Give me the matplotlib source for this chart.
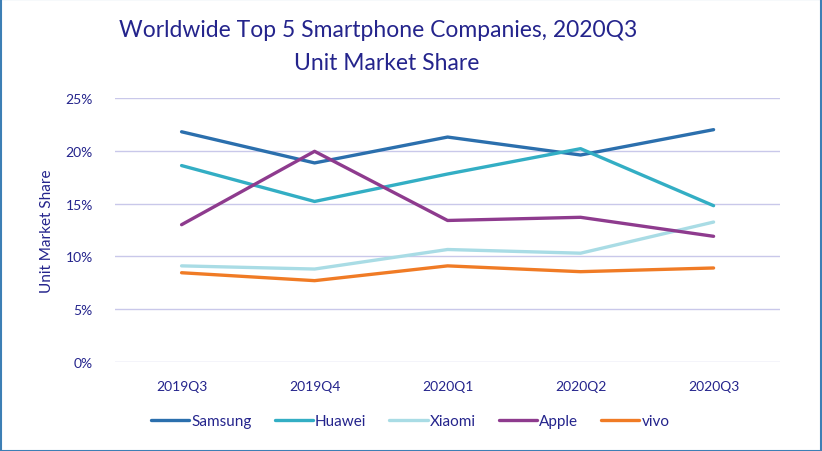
import matplotlib
matplotlib.use("Agg")
from matplotlib import pyplot as plt
from matplotlib.patches import Rectangle
from matplotlib.ticker import PercentFormatter

plt.rcParams["font.family"] = ["Lato", "DejaVu Sans"]

quarters = ["2019Q3", "2019Q4", "2020Q1", "2020Q2", "2020Q3"]
samsung = [21.8, 18.85, 21.3, 19.6, 22.0]
huawei = [18.6, 15.2, 17.8, 20.2, 14.8]
xiaomi = [9.1, 8.8, 10.65, 10.3, 13.25]
apple = [13.0, 19.95, 13.4, 13.7, 11.9]
vivo = [8.45, 7.7, 9.1, 8.55, 8.9]

series = [
    ("Samsung", samsung, "#2b6fad"),
    ("Huawei", huawei, "#33aec4"),
    ("Xiaomi", xiaomi, "#a9dce5"),
    ("Apple", apple, "#8e3b8e"),
    ("vivo", vivo, "#f07b25"),
]

navy = "#24248c"

fig = plt.figure(figsize=(8.22, 4.52), dpi=100)
ax = fig.add_axes([0.140, 0.197, 0.809, 0.584])

x = range(len(quarters))
for name, vals, col in series:
    ax.plot(x, vals, color=col, lw=2.4, label=name, solid_capstyle="round")

ax.set_xlim(-0.5, len(quarters) - 0.5)
ax.set_ylim(0, 25)
ax.set_yticks([0, 5, 10, 15, 20, 25])
ax.yaxis.set_major_formatter(PercentFormatter(decimals=0))
ax.set_xticks(list(x))
ax.set_xticklabels(quarters)
ax.grid(axis="y", color="#c9c8ea", lw=1.0)
ax.set_axisbelow(True)
for s in ax.spines.values():
    s.set_visible(False)
ax.tick_params(length=0, colors=navy, labelsize=10)
ax.tick_params(axis="y", pad=16)
ax.tick_params(axis="x", pad=13)
ax.set_ylabel("Unit Market Share", color=navy, fontsize=11, labelpad=8)

fig.text(0.46, 0.932, "Worldwide Top 5 Smartphone Companies, 2020Q3",
         ha="center", va="center", color=navy, fontsize=16.5)
fig.text(0.47, 0.86, "Unit Market Share",
         ha="center", va="center", color=navy, fontsize=16.5)

leg = fig.legend(loc="center", bbox_to_anchor=(0.499, 0.066), ncol=5,
                 frameon=False, fontsize=11, handlelength=2.5,
                 handletextpad=0.15, columnspacing=1.5)
for t in leg.get_texts():
    t.set_color(navy)

fig.patches.append(Rectangle((0.001, 0.001), 0.998, 0.998, transform=fig.transFigure,
                             fill=False, edgecolor="#3d7fb5", lw=1.5))

fig.savefig("out.png", dpi=100)
